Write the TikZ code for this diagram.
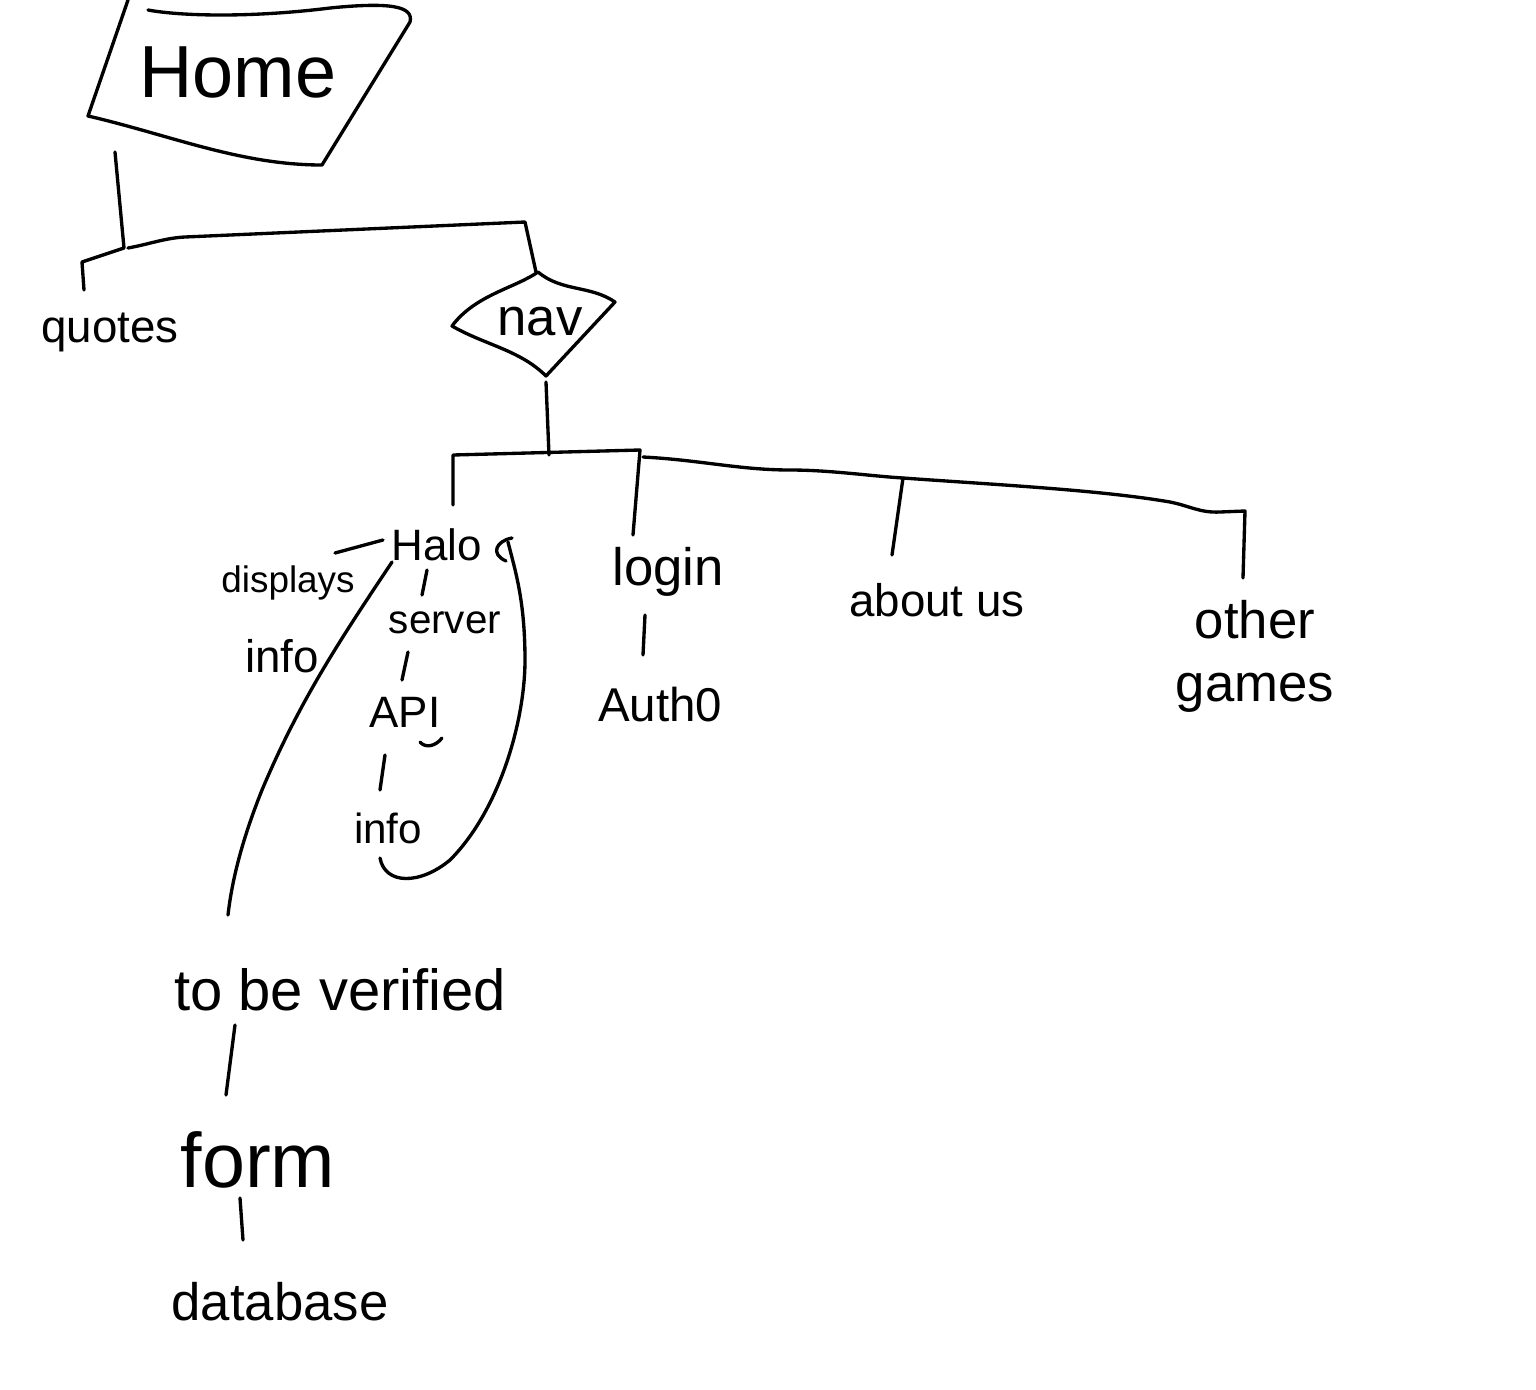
\documentclass[tikz,border=0pt]{standalone}
\usepackage{fontspec}
\setmainfont{Liberation Sans}
\begin{document}
\begin{tikzpicture}[x=0.02cm,y=-0.02cm,line width=1.9pt,line cap=round,line join=round,
  lbl/.style={inner sep=0pt,font=\fontsize{#1}{#1}\selectfont}]
\fill[white] (0,0) rectangle (1536,1390);
\useasboundingbox (0,0) rectangle (1536,1390);
% Home parallelogram
\draw (128,0) -- (88,116) .. controls (170,135) and (240,165) .. (322,165) -- (410,22)
  .. controls (414,6) and (390,2) .. (330,8) .. controls (250,18) and (180,16) .. (148,10);
\node[lbl=42] (home) at (238,72) {Home};
% nav shape
\draw (538,272) .. controls (515,288) and (475,295) .. (452,326)
  .. controls (485,345) and (520,350) .. (546,376) -- (615,302)
  .. controls (590,285) and (562,292) .. (538,272);
\node[lbl=30] (nav) at (540,322) {nav};
% labels
\node[lbl=26] (quotes) at (110,332) {quotes};
\node[lbl=25] (halo) at (437,545) {Halo};
\node[lbl=21] (displays) at (288,583) {displays};
\node[lbl=26] (info1) at (282,656) {info};
\node[lbl=23] (server) at (445,623) {server};
\node[lbl=25] (api) at (405,712) {API};
\node[lbl=24] (info2) at (388,828) {info};
\node[lbl=33] (verified) at (340,990) {to be verified};
\node[lbl=44] (form) at (258,1160) {form};
\node[lbl=30] (database) at (280,1302) {database};
\node[lbl=30] (login) at (668,572) {login};
\node[lbl=27] (auth) at (660,705) {Auth0};
\node[lbl=26] (about) at (937,600) {about us};
\node[lbl=30,align=center,font=\fontsize{30}{36}\selectfont] (other) at (1255,656) {other\\games};
% coordinates of connector ends
\coordinate (hb) at (115,152);
\coordinate (j1) at (124,248);
\coordinate (qtop) at (84,290);
\coordinate (navtop) at (536,272);
\coordinate (navbot) at (546,382);
\coordinate (j2) at (549,455);
% Home tree
\draw (hb) -- (j1) -- (82,262) -- (qtop);
\draw (128,248) .. controls (150,244) and (165,238) .. (185,237) -- (525,222) -- (navtop);
% nav tree
\draw (navbot) -- (j2);
\draw (453,505) -- (453,455) -- (640,450) -- (633,535);
\draw (643,457) .. controls (700,460) and (740,470) .. (790,470) .. controls (830,470) and (870,476) .. (903,478)
  .. controls (1000,485) and (1100,490) .. (1170,502) .. controls (1190,506) and (1200,513) .. (1220,512) -- (1245,511) -- (1243,578);
\draw (903,478) -- (892,555);
% Halo branch
\draw (335,553) -- (383,540);
\draw (427,570) -- (422,595);
\draw (408,652) -- (402,680);
\draw (385,755) -- (380,790);
\draw (420,742) .. controls (425,748) and (435,747) .. (442,738);
\draw (380,858) .. controls (385,885) and (420,885) .. (450,860) .. controls (500,810) and (525,720) .. (525,660)
  .. controls (525,600) and (515,570) .. (508,542);
\draw (512,538) .. controls (496,541) and (490,554) .. (506,561);
\draw (392,562) .. controls (340,640) and (300,700) .. (262,790) .. controls (242,840) and (232,880) .. (228,915);
\draw (235,1025) -- (226,1095);
\draw (240,1198) -- (243,1240);
% login
\draw (645,615) -- (643,655);
\end{tikzpicture}
\end{document}
